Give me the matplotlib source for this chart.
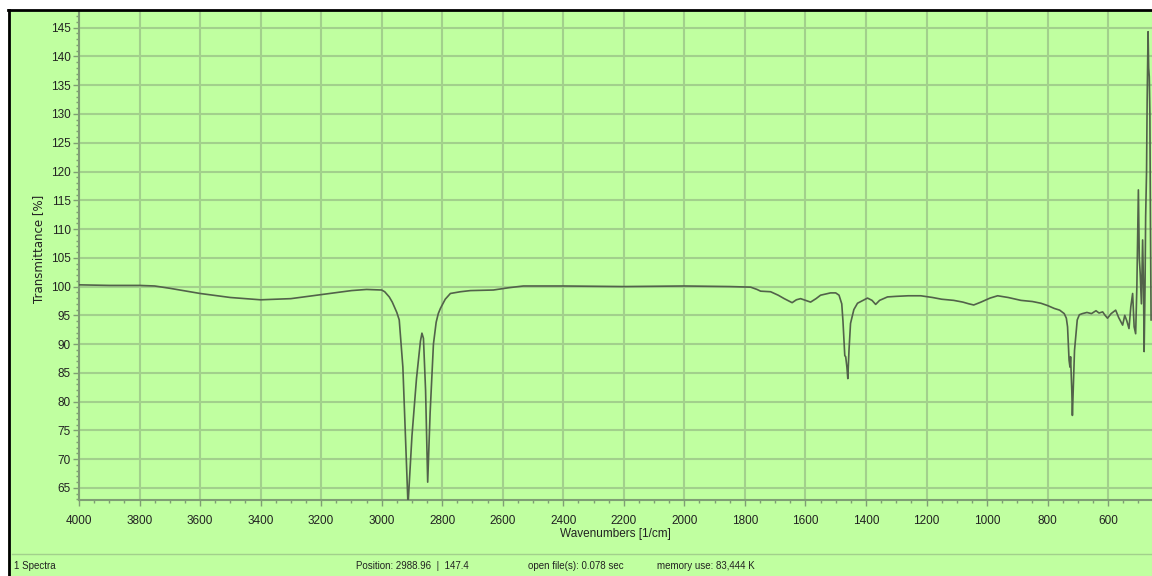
import matplotlib
matplotlib.use("Agg")
import matplotlib.pyplot as plt
from matplotlib.lines import Line2D
from matplotlib.patches import Rectangle
from matplotlib.ticker import MultipleLocator

# spectrum (wavenumber in 1/cm, transmittance in %)
wavenumber = [
    4000, 3900, 3800, 3750, 3700, 3600, 3500, 3400, 3300, 3200,
    3100, 3050, 3000, 2990, 2975, 2965, 2950, 2942, 2930, 2913,
    2900, 2885, 2872, 2867, 2862, 2855, 2848, 2840, 2829, 2820,
    2813, 2806, 2790, 2773, 2740, 2707, 2631, 2580, 2532, 2400,
    2200, 2000, 1850, 1781, 1760, 1748, 1715, 1690, 1670, 1644,
    1630, 1616, 1600, 1583, 1565, 1550, 1517, 1500, 1489, 1480,
    1476, 1470, 1467, 1463, 1460, 1456, 1451, 1440, 1428, 1410,
    1395, 1380, 1368, 1355, 1329, 1300, 1260, 1219, 1180, 1150,
    1110, 1080, 1060, 1044, 1020, 990, 965, 930, 888, 850,
    822, 800, 778, 760, 745, 738, 734, 729, 726, 724,
    720, 718, 714, 711, 702, 695, 685, 670, 655, 640,
    630, 618, 610, 602, 590, 575, 565, 552, 545, 538,
    531, 525, 519, 514, 509, 505, 500, 497, 494, 490,
    486, 483, 481, 478, 476, 473, 471, 468, 466, 464,
    462, 460, 458,
]
transmittance = [
    100.3, 100.2, 100.2, 100.1, 99.7, 98.8, 98.1, 97.7, 97.9, 98.6,
    99.3, 99.5, 99.4, 99.1, 98.2, 97.3, 95.5, 94.2, 86.0, 62.0,
    74.0, 84.0, 90.5, 91.9, 91.0, 82.0, 66.0, 78.0, 90.0, 93.8,
    95.3, 96.2, 97.8, 98.8, 99.1, 99.3, 99.4, 99.8, 100.1, 100.1,
    100.0, 100.1, 100.0, 99.9, 99.5, 99.2, 99.1, 98.5, 97.9, 97.2,
    97.7, 97.9, 97.6, 97.3, 97.9, 98.5, 98.9, 98.9, 98.5, 97.0,
    94.0, 88.0, 87.8, 86.0, 84.0, 89.0, 93.6, 96.0, 97.1, 97.6,
    98.0, 97.6, 96.9, 97.6, 98.2, 98.3, 98.4, 98.4, 98.1, 97.8,
    97.6, 97.3, 97.0, 96.8, 97.3, 98.0, 98.4, 98.1, 97.6, 97.4,
    97.1, 96.7, 96.2, 95.9, 95.3, 94.5, 93.0, 87.2, 86.0, 87.8,
    82.0, 77.6, 84.0, 88.9, 94.2, 95.1, 95.3, 95.5, 95.3, 95.8,
    95.4, 95.6, 95.0, 94.5, 95.3, 95.9, 94.6, 93.3, 95.0, 94.0,
    92.7, 96.5, 98.8, 93.0, 91.8, 100.0, 116.8, 105.0, 102.3, 97.0,
    108.1, 100.0, 88.7, 100.0, 112.1, 120.0, 132.4, 144.3, 138.0, 136.5,
    130.0, 110.0, 94.2,
]

status_texts = ["1 Spectra", "Position: 2988.96  |  147.4",
                "open file(s): 0.078 sec", "memory use: 83,444 K"]
status_x = [14, 356, 528, 657]

BG = "#c0ffa0"
GRID = "#a2d08c"
AXIS = "#7f9e74"
LINE = "#52624a"
TEXT = "#222222"

W, H = 1152, 576
fig = plt.figure(figsize=(W / 100, H / 100), dpi=100)
fig.patch.set_facecolor(BG)

# window frame: white margin, black border, status bar separator
fig.patches.append(Rectangle((0, 0), 7 / W, 1, transform=fig.transFigure, color="white", zorder=0))
fig.patches.append(Rectangle((0, 1 - 9 / H), 1, 9 / H, transform=fig.transFigure, color="white", zorder=0))
fig.lines.append(Line2D([8.5 / W, 8.5 / W], [0, 1 - 9.5 / H], transform=fig.transFigure, color="black", lw=2))
fig.lines.append(Line2D([8 / W, 1], [1 - 10 / H, 1 - 10 / H], transform=fig.transFigure, color="black", lw=2))
fig.lines.append(Line2D([12 / W, 1], [1 - 554 / H, 1 - 554 / H], transform=fig.transFigure, color=GRID, lw=1))

ax = fig.add_axes([79 / W, 1 - 500 / H, (W - 79) / W, (500 - 11) / H])
ax.set_facecolor(BG)
ax.plot(wavenumber, transmittance, color=LINE, lw=1.2, zorder=3)

ax.set_xlim(4000, 455)
ax.set_ylim(62.9, 147.9)
ax.xaxis.set_major_locator(MultipleLocator(200))
ax.xaxis.set_minor_locator(MultipleLocator(50))
ax.yaxis.set_major_locator(MultipleLocator(5))
ax.yaxis.set_minor_locator(MultipleLocator(1))
ax.grid(True, which="major", color=GRID, lw=1.5)
ax.set_axisbelow(True)

for side in ("top", "right"):
    ax.spines[side].set_visible(False)
for side in ("left", "bottom"):
    ax.spines[side].set_color(AXIS)
    ax.spines[side].set_linewidth(1.5)

ax.tick_params(which="both", direction="out", color=AXIS, labelcolor=TEXT, labelsize=8.5)
ax.tick_params(which="major", length=4, width=1)
ax.tick_params(which="minor", length=2, width=1)
ax.tick_params(axis="x", which="major", pad=7)
ax.tick_params(axis="y", which="major", pad=2)
for lbl in ax.get_xticklabels() + ax.get_yticklabels():
    lbl.set_family("Liberation Sans")

ax.set_xlabel("Wavenumbers [1/cm]", fontsize=8.5, color=TEXT, family="Liberation Sans")
ax.xaxis.set_label_coords(0.5, -0.058)
ax.set_ylabel("Transmittance [%]", fontsize=8.5, color=TEXT, family="DejaVu Sans")
ax.yaxis.set_label_coords(-0.0317, 0.513)

for txt, x in zip(status_texts, status_x):
    fig.text(x / W, 1 - 566 / H, txt, fontsize=7, color=TEXT, va="center", ha="left",
             family="Liberation Sans")

fig.savefig("out.png", dpi=100, facecolor=fig.get_facecolor())
